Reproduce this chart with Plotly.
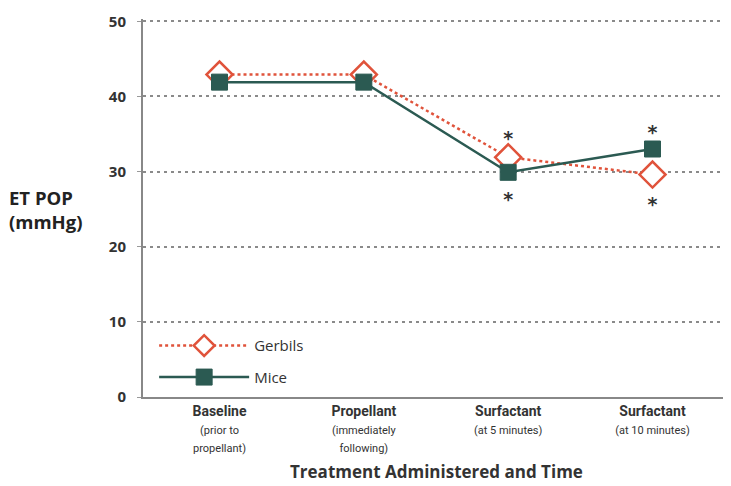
import plotly.graph_objects as go

categories = ["Baseline", "Propellant", "Surfactant", "Surfactant"]
subtitles = ["(prior to<br>propellant)", "(immediately<br>following)", "(at 5 minutes)", "(at 10 minutes)"]
gerbils = [42.9, 42.9, 31.9, 29.6]
mice = [41.9, 41.9, 29.9, 33.0]
star_x = [2, 2, 3, 3]
star_y = [34.1, 26.0, 34.9, 25.4]
y_ticks = [0, 10, 20, 30, 40, 50]

xs = list(range(len(categories)))
ticktext = [f"<b>{c}</b><br><span style='font-size:11px'>{s}</span>" for c, s in zip(categories, subtitles)]

teal = "#2b5a52"
red = "#e0533b"

fig = go.Figure()
fig.add_trace(go.Scatter(
    x=xs, y=gerbils, name="Gerbils", mode="lines+markers", legendgroup="g",
    line=dict(color=red, width=2.5, dash="dot"),
    marker=dict(symbol="diamond", size=20, color="white", line=dict(color=red, width=2.5)),
))
fig.add_trace(go.Scatter(
    x=xs, y=mice, name="Mice", mode="lines+markers", legendgroup="m",
    line=dict(color=teal, width=2.5),
    marker=dict(symbol="square", size=16, color=teal, line=dict(color=teal, width=1)),
))
fig.add_trace(go.Scatter(
    x=star_x, y=star_y, mode="text", text=["*"] * len(star_x), showlegend=False,
    textfont=dict(size=19, color="#333333", family="DejaVu Sans", weight="bold"), textposition="middle center",
    hoverinfo="skip",
))

fig.update_layout(
    width=723, height=478,
    margin=dict(l=135, r=2, t=11, b=89),
    paper_bgcolor="white", plot_bgcolor="white",
    font=dict(family="Open Sans", color="#333333"),
    showlegend=True,
    legend=dict(x=0.019, y=0.179, xanchor="left", yanchor="top", bgcolor="rgba(0,0,0,0)",
                font=dict(size=15, color="#333333"), itemwidth=90, tracegroupgap=9),
    xaxis=dict(
        range=[-0.53, 3.53], tickmode="array", tickvals=xs, ticktext=ticktext, automargin=False,
        showgrid=False, zeroline=False, showline=True, linecolor="#888888", linewidth=2,
        ticks="", tickfont=dict(family="Liberation Sans Narrow, Roboto", size=14, color="#333333"),
    ),
    yaxis=dict(
        range=[0, 50.3], tickmode="array", tickvals=y_ticks, automargin=False,
        showgrid=True, gridcolor="#8a8a8a", griddash="3px,4px", gridwidth=1.5,
        zeroline=False, showline=True, linecolor="#888888", linewidth=2,
        ticks="outside", ticklen=4, tickcolor="#999999", ticklabelstandoff=8,
        tickfont=dict(family="Open Sans", size=15, color="#333333", weight="bold"),
    ),
)
fig.add_annotation(
    text="<b>Treatment Administered and Time</b>", xref="paper", yref="paper", x=0.5, y=-0.196,
    xanchor="center", yanchor="middle", showarrow=False,
    font=dict(size=17, color="#333333"),
)
fig.add_annotation(
    text="<b>ET POP<br>(mmHg)</b>", xref="paper", yref="paper", x=-0.232, y=0.495,
    xanchor="left", yanchor="middle", showarrow=False, align="left",
    font=dict(size=18.5, color="#222222"),
)
fig.write_html("out.html")
